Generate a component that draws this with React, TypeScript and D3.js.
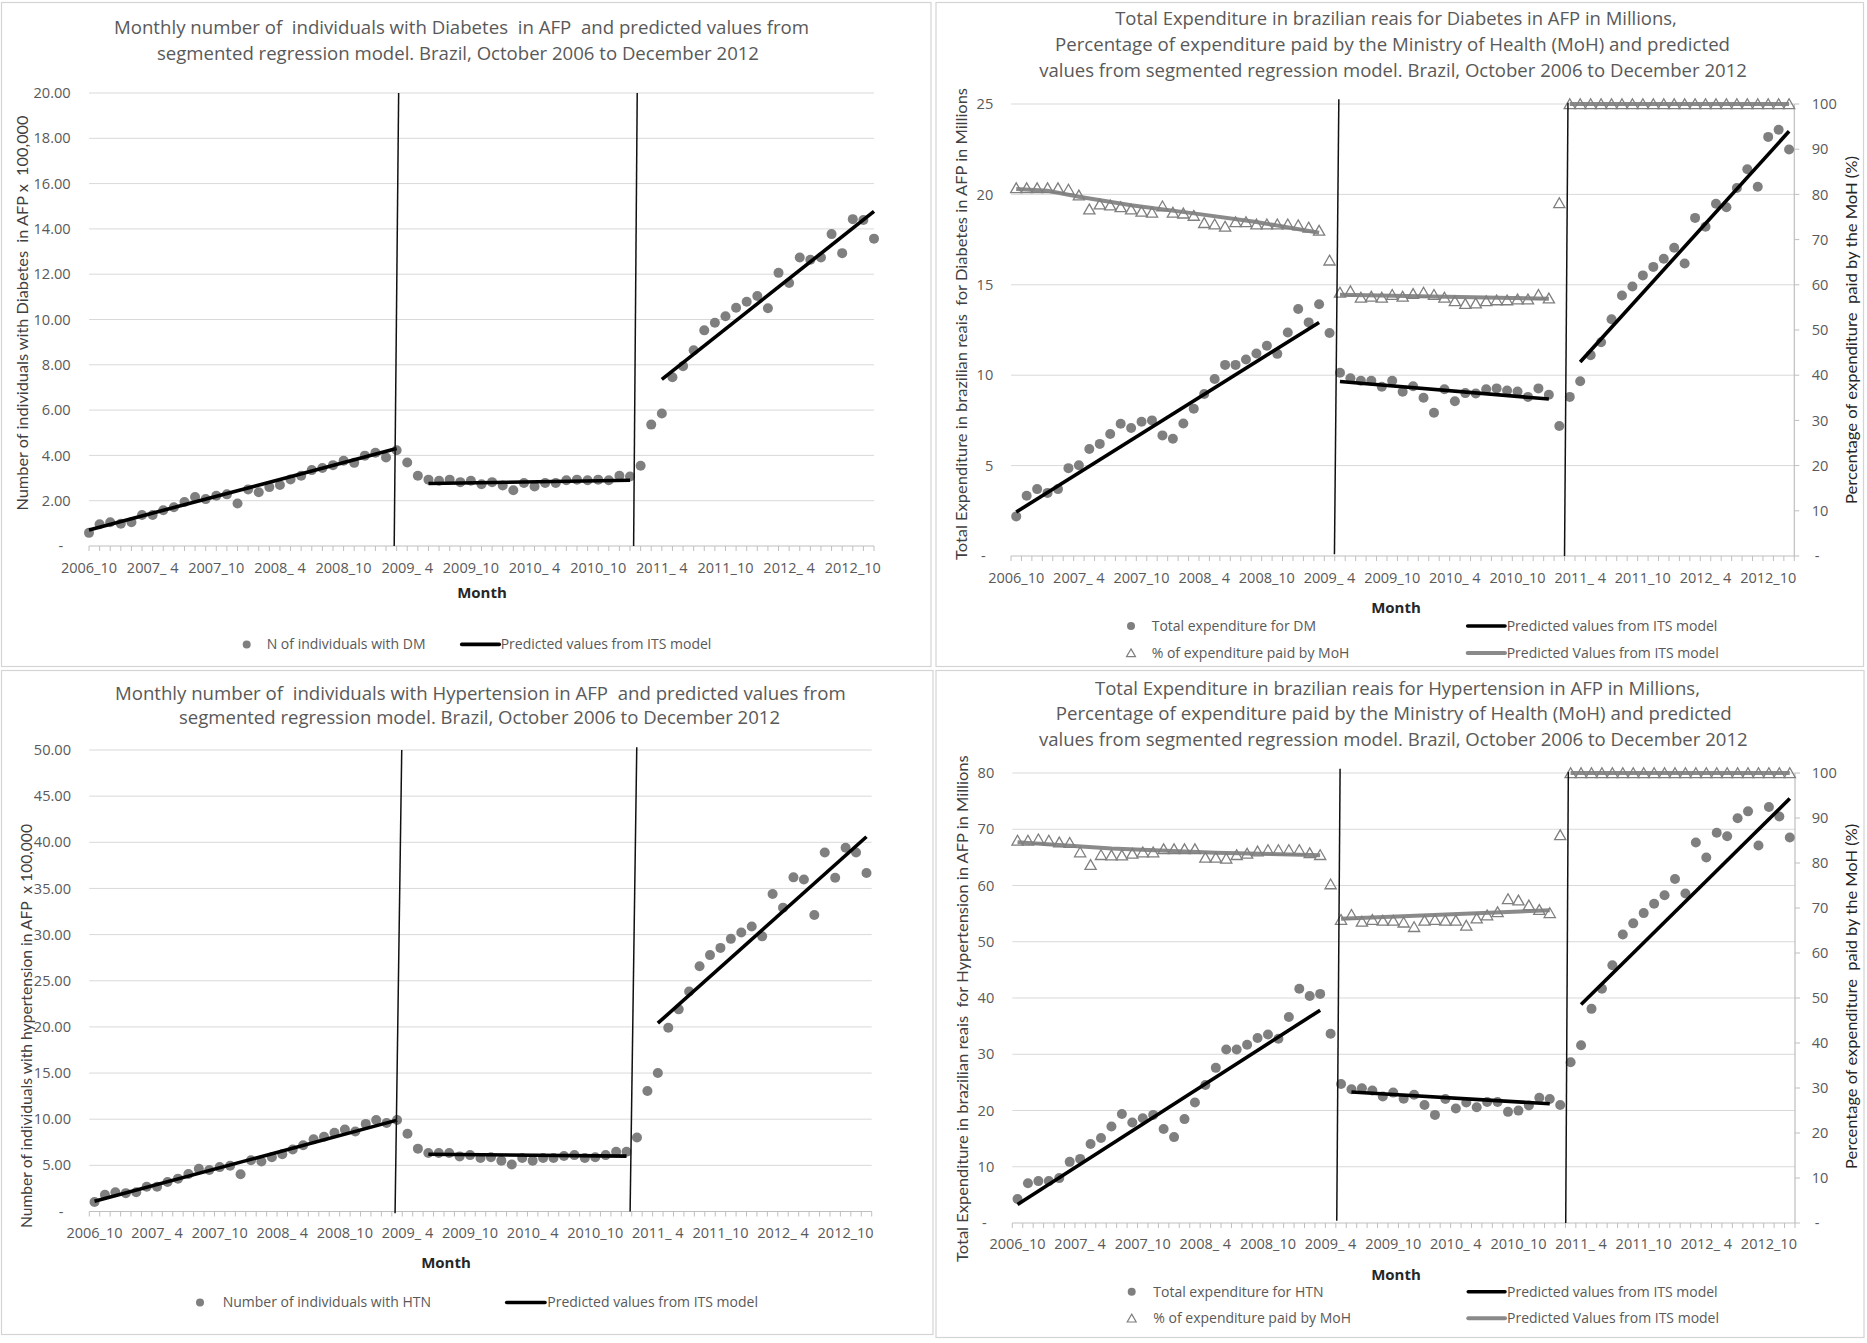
import React from "react";
import * as d3 from "d3";

// ---------- categories ----------
const MONTHS: string[] = [
  "2006_10", "2006_11", "2006_12",
  "2007_ 1", "2007_ 2", "2007_ 3", "2007_ 4", "2007_ 5", "2007_ 6", "2007_ 7", "2007_ 8", "2007_ 9", "2007_10", "2007_11", "2007_12",
  "2008_ 1", "2008_ 2", "2008_ 3", "2008_ 4", "2008_ 5", "2008_ 6", "2008_ 7", "2008_ 8", "2008_ 9", "2008_10", "2008_11", "2008_12",
  "2009_ 1", "2009_ 2", "2009_ 3", "2009_ 4", "2009_ 5", "2009_ 6", "2009_ 7", "2009_ 8", "2009_ 9", "2009_10", "2009_11", "2009_12",
  "2010_ 1", "2010_ 2", "2010_ 3", "2010_ 4", "2010_ 5", "2010_ 6", "2010_ 7", "2010_ 8", "2010_ 9", "2010_10", "2010_11", "2010_12",
  "2011_ 1", "2011_ 2", "2011_ 3", "2011_ 4", "2011_ 5", "2011_ 6", "2011_ 7", "2011_ 8", "2011_ 9", "2011_10", "2011_11", "2011_12",
  "2012_ 1", "2012_ 2", "2012_ 3", "2012_ 4", "2012_ 5", "2012_ 6", "2012_ 7", "2012_ 8", "2012_ 9", "2012_10", "2012_11", "2012_12",
];
const TICK_LABELS: string[] = [
  "2006_10", "2007_ 4", "2007_10", "2008_ 4", "2008_10", "2009_ 4", "2009_10",
  "2010_ 4", "2010_10", "2011_ 4", "2011_10", "2012_ 4", "2012_10",
];

// ---------- Diabetes: individuals x 100,000 ----------
const DM_COUNT: number[] = [
  0.58, 0.96, 1.05, 0.98, 1.05, 1.37, 1.37, 1.58, 1.71, 1.94,
  2.16, 2.07, 2.22, 2.28, 1.88, 2.50, 2.37, 2.60, 2.69, 2.94,
  3.10, 3.35, 3.44, 3.57, 3.76, 3.67, 3.99, 4.12, 3.91, 4.23,
  3.69, 3.10, 2.93, 2.88, 2.93, 2.82, 2.88, 2.73, 2.82, 2.67,
  2.46, 2.78, 2.63, 2.78, 2.78, 2.90, 2.93, 2.90, 2.93, 2.90,
  3.10, 3.07, 3.54, 5.36, 5.85, 7.45, 7.94, 8.64, 9.52, 9.86,
  10.14, 10.52, 10.78, 11.04, 10.50, 12.06, 11.61, 12.74, 12.64, 12.74,
  13.77, 12.93, 14.43, 14.39, 13.57,
];
// predicted segments: [month index, value]
const DM_COUNT_PRED: [number, number][][] = [
  [[0, 0.71], [29, 4.3]],
  [[32, 2.76], [51, 2.9]],
  [[54, 7.36], [74, 14.77]],
];
// intervention lines: [month index, value] top and bottom
const DM_COUNT_BREAKS: [number, number][][] = [
  [[29.19, 20], [28.77, 0]],
  [[51.68, 20], [51.34, 0]],
];

// ---------- Diabetes: expenditure (millions) and % paid by MoH ----------
const DM_EXP: number[] = [
  2.19, 3.33, 3.70, 3.49, 3.70, 4.86, 5.02, 5.92, 6.20, 6.75,
  7.31, 7.08, 7.43, 7.50, 6.67, 6.49, 7.33, 8.14, 8.96, 9.79,
  10.57, 10.57, 10.87, 11.20, 11.63, 11.18, 12.36, 13.66, 12.92, 13.92,
  12.33, 10.14, 9.83, 9.69, 9.69, 9.36, 9.69, 9.08, 9.39, 8.75,
  7.92, 9.22, 8.56, 9.01, 8.99, 9.22, 9.27, 9.15, 9.10, 8.80,
  9.27, 8.92, 7.19, 8.80, 9.67, 11.11, 11.82, 13.09, 14.41, 14.91,
  15.52, 15.99, 16.44, 17.05, 16.18, 18.70, 18.21, 19.48, 19.29, 20.35,
  21.39, 20.42, 23.18, 23.58, 22.48,
];
const DM_PCT: number[] = [
  81.4, 81.4, 81.4, 81.4, 81.4, 81.1, 79.8, 76.7, 77.8, 77.6,
  77.2, 76.7, 76.2, 76.0, 77.4, 76.0, 75.8, 75.3, 73.7, 73.4,
  72.9, 73.9, 73.9, 73.4, 73.4, 73.4, 73.4, 73.2, 72.7, 72.0,
  65.4, 58.3, 58.6, 57.2, 57.4, 57.2, 57.8, 57.4, 58.0, 58.3,
  57.8, 57.2, 56.4, 55.8, 55.9, 56.4, 56.6, 56.6, 56.8, 56.8,
  57.8, 57.0, 78.1, 100, 100, 100, 100, 100, 100, 100,
  100, 100, 100, 100, 100, 100, 100, 100, 100, 100,
  100, 100, 100, 100, 100,
];
const DM_EXP_PRED: [number, number][][] = [
  [[0, 2.43], [29, 12.92]],
  [[31, 9.65], [51, 8.68]],
  [[54, 10.73], [74, 23.49]],
];
const DM_PCT_PRED: [number, number][][] = [
  [[0, 81.2], [3, 80.8], [6, 79.5], [11, 77.6], [17, 75.8], [23, 73.9], [29, 71.5]],
  [[31, 57.8], [51, 56.9]],
  [[53, 100], [74, 100]],
];
const DM_EXP_BREAKS: [number, number][][] = [
  [[30.89, 25.26], [30.47, 0.1]],
  [[52.83, 25.07], [52.5, 0]],
];

// ---------- Hypertension: individuals x 100,000 ----------
const HTN_COUNT: number[] = [
  1.02, 1.81, 2.08, 1.99, 2.08, 2.69, 2.69, 3.19, 3.56, 4.07,
  4.63, 4.49, 4.81, 4.95, 4.03, 5.56, 5.42, 5.88, 6.20, 6.71,
  7.18, 7.82, 8.10, 8.52, 8.89, 8.66, 9.49, 9.91, 9.58, 9.91,
  8.43, 6.81, 6.34, 6.34, 6.34, 5.97, 6.11, 5.79, 5.88, 5.51,
  5.09, 5.79, 5.51, 5.79, 5.79, 6.02, 6.11, 5.79, 5.88, 6.11,
  6.48, 6.48, 8.01, 13.06, 15.00, 19.91, 21.90, 23.84, 26.57, 27.78,
  28.56, 29.54, 30.23, 30.88, 29.81, 34.40, 32.92, 36.20, 35.97, 32.13,
  38.89, 36.16, 39.40, 38.89, 36.67,
];
const HTN_COUNT_PRED: [number, number][][] = [
  [[0, 1.1], [29, 9.9]],
  [[32, 6.2], [51, 6.0]],
  [[54, 20.4], [74, 40.6]],
];
const HTN_COUNT_BREAKS: [number, number][][] = [
  [[29.45, 50], [28.81, -0.2]],
  [[51.98, 50.3], [51.34, 0]],
];

// ---------- Hypertension: expenditure (millions) and % paid by MoH ----------
const HTN_EXP: number[] = [
  4.26, 7.07, 7.45, 7.45, 7.98, 10.87, 11.40, 14.06, 15.12, 17.17,
  19.38, 17.86, 18.62, 19.22, 16.72, 15.27, 18.47, 21.43, 24.54, 27.58,
  30.85, 30.85, 31.69, 32.90, 33.51, 32.75, 36.63, 41.64, 40.35, 40.73,
  33.66, 24.70, 23.78, 23.94, 23.56, 22.49, 23.18, 22.11, 22.80, 20.97,
  19.22, 22.04, 20.36, 21.43, 20.59, 21.50, 21.50, 19.76, 19.98, 20.90,
  22.26, 22.04, 20.97, 28.57, 31.61, 38.07, 41.64, 45.82, 51.29, 53.27,
  55.09, 56.76, 58.28, 61.17, 58.59, 67.63, 64.97, 69.38, 68.77, 71.96,
  73.18, 67.10, 73.94, 72.26, 68.54,
];
const HTN_PCT: number[] = [
  85.0, 85.0, 85.3, 85.0, 84.6, 84.5, 82.4, 79.6, 81.8, 81.7,
  81.7, 82.1, 82.4, 82.4, 83.1, 83.1, 83.1, 83.1, 81.2, 81.2,
  81.0, 81.8, 82.1, 82.6, 82.9, 82.9, 82.9, 82.9, 82.2, 81.8,
  75.3, 67.4, 68.5, 67.0, 67.4, 67.2, 67.2, 66.8, 65.8, 67.2,
  67.4, 67.2, 67.2, 66.1, 67.7, 68.4, 69.1, 72.0, 71.7, 70.6,
  69.6, 68.9, 86.2, 100, 100, 100, 100, 100, 100, 100,
  100, 100, 100, 100, 100, 100, 100, 100, 100, 100,
  100, 100, 100, 100, 100,
];
const HTN_EXP_PRED: [number, number][][] = [
  [[0, 3.27], [29, 37.84]],
  [[32, 23.3], [51, 21.2]],
  [[54, 38.83], [74, 75.46]],
];
const HTN_PCT_PRED: [number, number][][] = [
  [[0, 84.6], [9, 83.2], [19, 82.3], [29, 81.7]],
  [[31, 67.6], [51, 69.5]],
  [[53, 100], [74, 100]],
];
const HTN_EXP_BREAKS: [number, number][][] = [
  [[30.91, 80.76], [30.59, 0.4]],
  [[52.78, 80.2], [52.53, 0]],
];

// ---------- styling ----------
const FONT = "'Open Sans', Lato, sans-serif";
const NARROW = "Lato, 'Open Sans', sans-serif";
const TXT = "#595959";
const GRID = "#d9d9d9";
const AXIS = "#bfbfbf";
const DOT = "#7f7f7f";
const GRAYLINE = "#8a8a8a";

type Seg = [number, number][];
interface TitleLine { text: string; cx: number; y: number; len: number }
interface AxisTitle { text: string; x: number; cy: number; len: number }
interface LegendItem { kind: "dot" | "tri" | "line" | "gline"; x: number; x2?: number; y: number; tx: number; text: string }

interface PanelProps {
  border: [number, number, number, number];
  titles: TitleLine[];
  mode: "point" | "band";
  xRange: [number, number];
  yBot: number;
  yTop: number;
  yMax: number;
  yStep: number;
  decimals: number;
  yLabelX: number;
  rightLabelX?: number;
  xLabelY: number;
  month: [number, number];
  yTitle: AxisTitle;
  rTitle?: AxisTitle;
  dots: number[];
  tris?: number[];
  pred: Seg[];
  predPct?: Seg[];
  breaks: Seg[];
  legend: LegendItem[];
}

const triPath = (s: number) => `M0,${-5.2 * s}L${5.6 * s},${4.6 * s}L${-5.6 * s},${4.6 * s}Z`;

function Panel(p: PanelProps) {
  const n = MONTHS.length;
  let cx: (m: string) => number;
  let step: number;
  let tickXs: number[];
  if (p.mode === "point") {
    const xs = d3.scalePoint<string>().domain(MONTHS).range(p.xRange).padding(0);
    cx = (m) => xs(m) as number;
    step = xs.step();
    tickXs = MONTHS.map((m) => xs(m) as number);
  } else {
    const xs = d3.scaleBand<string>().domain(MONTHS).range(p.xRange).paddingInner(0).paddingOuter(0);
    const bw = xs.bandwidth();
    cx = (m) => (xs(m) as number) + bw / 2;
    step = xs.step();
    tickXs = MONTHS.map((m) => xs(m) as number).concat([p.xRange[1]]);
  }
  const xi = (idx: number) => {
    const k = Math.max(0, Math.min(n - 1, Math.floor(idx)));
    return cx(MONTHS[k]) + (idx - k) * step;
  };
  const y = d3.scaleLinear().domain([0, p.yMax]).range([p.yBot, p.yTop]);
  const yr = d3.scaleLinear().domain([0, 100]).range([p.yBot, p.yTop]);
  const yTicks = d3.range(0, p.yMax + p.yStep / 2, p.yStep);
  const rTicks = d3.range(0, 101, 10);
  const line = d3.line<[number, number]>().x((d) => xi(d[0])).y((d) => y(d[1]));
  const lineR = d3.line<[number, number]>().x((d) => xi(d[0])).y((d) => yr(d[1]));
  const fmt = (v: number) => (v === 0 ? "-" : v.toFixed(p.decimals));
  const [bx, by, bw2, bh] = p.border;

  return (
    <g fontFamily={FONT}>
      <rect x={bx} y={by} width={bw2} height={bh} fill="#fff" stroke="#d4d4d4" strokeWidth={1.2} />
      {p.titles.map((t, i) => (
        <text key={i} x={t.cx} y={t.y} dy="0.35em" textAnchor="middle" fontSize={17.5} fill={TXT}
          textLength={t.len} lengthAdjust="spacingAndGlyphs" style={{ whiteSpace: "pre" }}>{t.text}</text>
      ))}
      {yTicks.filter((v) => v > 0).map((v) => (
        <line key={v} x1={p.xRange[0]} x2={p.xRange[1]} y1={y(v)} y2={y(v)} stroke={GRID} strokeWidth={1} />
      ))}
      {yTicks.map((v) => (
        <text key={v} x={v === 0 ? p.yLabelX - 7.5 : p.yLabelX} y={y(v)} dy="0.35em" textAnchor="end" fontSize={14.6} fill={TXT}>{fmt(v)}</text>
      ))}
      <line x1={p.xRange[0]} x2={p.xRange[1]} y1={p.yBot} y2={p.yBot} stroke={AXIS} strokeWidth={1.2} />
      {tickXs.map((tx, i) => (
        <line key={i} x1={tx} x2={tx} y1={p.yBot} y2={p.yBot + 5} stroke={AXIS} strokeWidth={1} />
      ))}
      {TICK_LABELS.map((m) => (
        <text key={m} x={cx(m)} y={p.xLabelY} dy="0.35em" textAnchor="middle" fontSize={14.5} fill={TXT} style={{ whiteSpace: "pre" }}>{m}</text>
      ))}
      <text x={p.month[0]} y={p.month[1]} dy="0.35em" textAnchor="middle" fontSize={15} fontWeight="bold" fill="#262626">Month</text>
      {p.rightLabelX !== undefined && (
        <g>
          <line x1={p.xRange[1]} x2={p.xRange[1]} y1={p.yTop} y2={p.yBot} stroke={AXIS} strokeWidth={1.2} />
          {rTicks.map((v) => (
            <g key={v}>
              <line x1={p.xRange[1]} x2={p.xRange[1] + 5} y1={yr(v)} y2={yr(v)} stroke={AXIS} strokeWidth={1} />
              <text x={v === 0 ? (p.rightLabelX as number) + 3 : (p.rightLabelX as number)} y={yr(v)} dy="0.35em" textAnchor="start" fontSize={14.6} fill={TXT}>{v === 0 ? "-" : String(v)}</text>
            </g>
          ))}
        </g>
      )}
      <text transform={`translate(${p.yTitle.x},${p.yTitle.cy}) rotate(-90)`} dy="0.35em" textAnchor="middle" fontSize={15.5} fill="#404040" fontFamily={NARROW}
        textLength={p.yTitle.len} lengthAdjust="spacingAndGlyphs" style={{ whiteSpace: "pre" }}>{p.yTitle.text}</text>
      {p.rTitle && (
        <text transform={`translate(${p.rTitle.x},${p.rTitle.cy}) rotate(-90)`} dy="0.35em" textAnchor="middle" fontSize={15.5} fill="#262626" fontFamily={NARROW}
          textLength={p.rTitle.len} lengthAdjust="spacingAndGlyphs" style={{ whiteSpace: "pre" }}>{p.rTitle.text}</text>
      )}
      {p.predPct && p.predPct.map((s, i) => (
        <path key={i} d={lineR(s) as string} fill="none" stroke={GRAYLINE} strokeWidth={4} />
      ))}
      {p.tris && p.tris.map((v, i) => (
        <path key={i} d={triPath(1)} transform={`translate(${cx(MONTHS[i])},${yr(v)})`} fill="none" stroke={DOT} strokeWidth={1.3} />
      ))}
      {p.dots.map((v, i) => (
        <circle key={i} cx={cx(MONTHS[i])} cy={y(v)} r={5} fill={DOT} />
      ))}
      {p.pred.map((s, i) => (
        <path key={i} d={line(s) as string} fill="none" stroke="#000" strokeWidth={3.6} />
      ))}
      {p.breaks.map((s, i) => (
        <path key={i} d={line(s) as string} fill="none" stroke="#111" strokeWidth={1.5} />
      ))}
      {p.legend.map((l, i) => (
        <g key={i}>
          {l.kind === "dot" && <circle cx={l.x} cy={l.y} r={4} fill={DOT} />}
          {l.kind === "tri" && <path d={triPath(0.8)} transform={`translate(${l.x},${l.y})`} fill="none" stroke={DOT} strokeWidth={1.2} />}
          {l.kind === "line" && <line x1={l.x} x2={l.x2} y1={l.y} y2={l.y} stroke="#000" strokeWidth={3.6} strokeLinecap="round" />}
          {l.kind === "gline" && <line x1={l.x} x2={l.x2} y1={l.y} y2={l.y} stroke={GRAYLINE} strokeWidth={4} strokeLinecap="round" />}
          <text x={l.tx} y={l.y} dy="0.35em" fontSize={14} fill={TXT}>{l.text}</text>
        </g>
      ))}
    </g>
  );
}

export default function App() {
  return (
    <svg width={1867} height={1343} viewBox="0 0 1867 1343" style={{ position: "absolute", left: 0, top: 0, background: "#fff" }}>
      <rect x={0} y={0} width={1867} height={1343} fill="#fff" />
      <Panel
        border={[1.5, 2.5, 929.5, 664]}
        titles={[
          { text: "Monthly number of  individuals with Diabetes  in AFP  and predicted values from", cx: 461.5, y: 27.8, len: 695 },
          { text: "segmented regression model. Brazil, October 2006 to December 2012", cx: 458, y: 53.4, len: 602 },
        ]}
        mode="point" xRange={[89, 874]} yBot={546} yTop={93} yMax={20} yStep={2} decimals={2}
        yLabelX={70.7} xLabelY={568.4} month={[482, 593.2]}
        yTitle={{ text: "Number of individuals with Diabetes  in AFP x  100,000", x: 23, cy: 313, len: 395 }}
        dots={DM_COUNT} pred={DM_COUNT_PRED} breaks={DM_COUNT_BREAKS}
        legend={[
          { kind: "dot", x: 246.7, y: 644.4, tx: 266.7, text: "N of individuals with DM" },
          { kind: "line", x: 461.7, x2: 499.3, y: 644.4, tx: 500.7, text: "Predicted values from ITS model" },
        ]}
      />
      <Panel
        border={[936, 2.5, 927.5, 664]}
        titles={[
          { text: "Total Expenditure in brazilian reais for Diabetes in AFP in Millions,", cx: 1396, y: 19.2, len: 561.7 },
          { text: "Percentage of expenditure paid by the Ministry of Health (MoH) and predicted", cx: 1392.5, y: 44.9, len: 675 },
          { text: "values from segmented regression model. Brazil, October 2006 to December 2012", cx: 1393, y: 70.5, len: 707.7 },
        ]}
        mode="band" xRange={[1011, 1794.3]} yBot={556} yTop={104} yMax={25} yStep={5} decimals={0}
        yLabelX={993.3} rightLabelX={1811.7} xLabelY={577.8} month={[1396, 607.7]}
        yTitle={{ text: "Total Expenditure in brazilian reais  for Diabetes in AFP in Millions", x: 962, cy: 324, len: 472 }}
        rTitle={{ text: "Percentage of expenditure  paid by the MoH (%)", x: 1851.7, cy: 330, len: 348 }}
        dots={DM_EXP} tris={DM_PCT} pred={DM_EXP_PRED} predPct={DM_PCT_PRED} breaks={DM_EXP_BREAKS}
        legend={[
          { kind: "dot", x: 1131, y: 626, tx: 1151.7, text: "Total expenditure for DM" },
          { kind: "tri", x: 1131, y: 653, tx: 1151.7, text: "% of expenditure paid by MoH" },
          { kind: "line", x: 1467.7, x2: 1505, y: 626, tx: 1506.7, text: "Predicted values from ITS model" },
          { kind: "gline", x: 1467.7, x2: 1505, y: 653, tx: 1506.7, text: "Predicted Values from ITS model" },
        ]}
      />
      <Panel
        border={[1.5, 670.5, 931.5, 664]}
        titles={[
          { text: "Monthly number of  individuals with Hypertension in AFP  and predicted values from", cx: 480.3, y: 693.5, len: 730.7 },
          { text: "segmented regression model. Brazil, October 2006 to December 2012", cx: 479.5, y: 718.3, len: 601 },
        ]}
        mode="band" xRange={[89.3, 871.7]} yBot={1211.5} yTop={750} yMax={50} yStep={5} decimals={2}
        yLabelX={71} xLabelY={1233.2} month={[446, 1263]}
        yTitle={{ text: "Number of individuals with hypertension in AFP  x 100,000", x: 26.7, cy: 1026, len: 404 }}
        dots={HTN_COUNT} pred={HTN_COUNT_PRED} breaks={HTN_COUNT_BREAKS}
        legend={[
          { kind: "dot", x: 200, y: 1302.5, tx: 222.7, text: "Number of individuals with HTN" },
          { kind: "line", x: 506.7, x2: 545, y: 1302.5, tx: 547.3, text: "Predicted values from ITS model" },
        ]}
      />
      <Panel
        border={[936, 670.5, 928, 667]}
        titles={[
          { text: "Total Expenditure in brazilian reais for Hypertension in AFP in Millions,", cx: 1397.5, y: 688.4, len: 605 },
          { text: "Percentage of expenditure paid by the Ministry of Health (MoH) and predicted", cx: 1393.7, y: 714, len: 676 },
          { text: "values from segmented regression model. Brazil, October 2006 to December 2012", cx: 1393.3, y: 739.7, len: 708.7 },
        ]}
        mode="band" xRange={[1012.3, 1795]} yBot={1223} yTop={773} yMax={80} yStep={10} decimals={0}
        yLabelX={994.3} rightLabelX={1811.7} xLabelY={1243.5} month={[1396, 1274.7]}
        yTitle={{ text: "Total Expenditure in brazilian reais  for Hypertension in AFP in Millions", x: 963, cy: 1008.7, len: 506.5 }}
        rTitle={{ text: "Percentage of expenditure  paid by the MoH (%)", x: 1851.7, cy: 996.4, len: 345 }}
        dots={HTN_EXP} tris={HTN_PCT} pred={HTN_EXP_PRED} predPct={HTN_PCT_PRED} breaks={HTN_EXP_BREAKS}
        legend={[
          { kind: "dot", x: 1131.7, y: 1291.8, tx: 1153.3, text: "Total expenditure for HTN" },
          { kind: "tri", x: 1131.7, y: 1318.3, tx: 1153.3, text: "% of expenditure paid by MoH" },
          { kind: "line", x: 1468.3, x2: 1505, y: 1291.8, tx: 1507, text: "Predicted values from ITS model" },
          { kind: "gline", x: 1468.3, x2: 1505, y: 1318.3, tx: 1507, text: "Predicted Values from ITS model" },
        ]}
      />
    </svg>
  );
}
